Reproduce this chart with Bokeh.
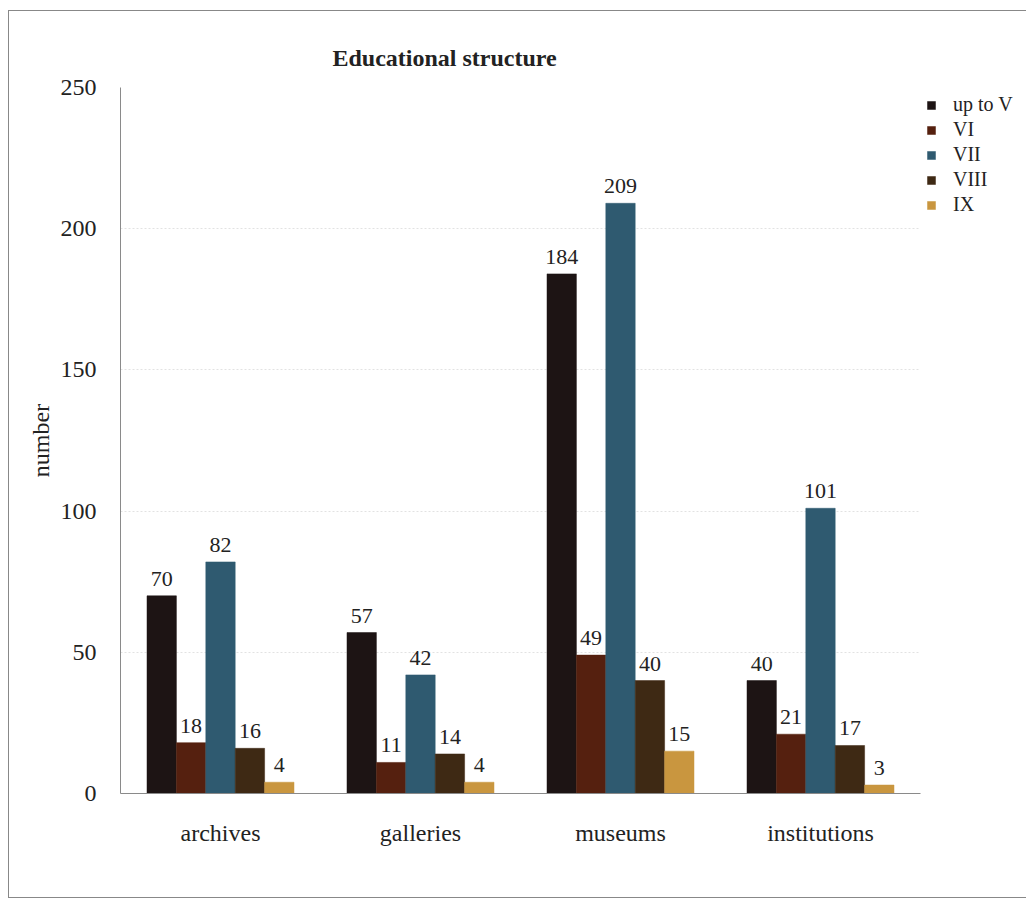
from bokeh.plotting import figure
from bokeh.models import FactorRange, Legend, LegendItem, ColumnDataSource, SingleIntervalTicker
from bokeh.transform import dodge
from bokeh.core.properties import value
from bokeh.embed import file_html
from bokeh.resources import INLINE

categories = ["archives", "galleries", "museums", "institutions"]
series = ["up to V", "VI", "VII", "VIII", "IX"]
up_to_v = [70, 57, 184, 40]
vi = [18, 11, 49, 21]
vii = [82, 42, 209, 101]
viii = [16, 14, 40, 17]
ix = [4, 4, 15, 3]
values = [up_to_v, vi, vii, viii, ix]
colors = ["#1d1414", "#55200f", "#2f5a70", "#3e2914", "#c9963f"]

FONT = "Liberation Serif"

p = figure(x_range=FactorRange(*categories, range_padding=0), y_range=(0, 250),
           frame_width=800, frame_height=706, output_backend="svg", toolbar_location=None,
           min_border_left=111, min_border_right=0, min_border_top=76, min_border_bottom=104)
p.outline_line_color = None
p.background_fill_color = "white"
p.border_fill_color = "white"
p.styles = {"border": "1px solid #888888", "margin-left": "8px", "margin-top": "10px"}

bw = 0.147
offsets = [-2 * bw, -bw, 0, bw, 2 * bw]
items = []
for name, vals, col, off in zip(series, values, colors, offsets):
    src = ColumnDataSource(dict(cat=categories, v=vals, t=[str(x) for x in vals]))
    r = p.vbar(x=dodge("cat", off, range=p.x_range), top="v", width=bw, source=src,
               fill_color=col, line_color=col, line_width=0.5)
    p.text(x=dodge("cat", off, range=p.x_range), y="v", text="t", source=src,
           text_align="center", text_baseline="bottom", y_offset=-10,
           text_font=value(FONT), text_font_size="22px", text_color="#222222")
    items.append(LegendItem(label=name, renderers=[r]))

legend = Legend(items=items, location="top_left", border_line_color=None,
                background_fill_alpha=0, label_text_font=FONT, label_text_font_size="20px",
                label_text_color="#222222", glyph_width=10, glyph_height=10,
                label_height=20, spacing=2, padding=0, margin=6, label_standoff=17)
p.add_layout(legend, "right")

p.title.text = "Educational structure"
p.title.text_font = FONT
p.title.text_font_size = "24px"
p.title.text_font_style = "bold"
p.title.align = "left"
p.title.offset = 212
p.title.standoff = 34
p.title.text_color = "#222222"

p.yaxis.ticker = SingleIntervalTicker(interval=50)
p.yaxis.axis_label = "number"
p.yaxis.axis_label_text_font = FONT
p.yaxis.axis_label_text_font_size = "24px"
p.yaxis.axis_label_text_font_style = "normal"
p.yaxis.axis_label_text_color = "#222222"
p.yaxis.axis_label_standoff = 4
for ax in (p.xaxis, p.yaxis):
    ax.major_label_text_font = FONT
    ax.major_label_text_font_size = "24px"
    ax.major_label_text_color = "#222222"
    ax.axis_line_color = "#8a8a8a"
    ax.major_tick_line_color = None
    ax.minor_tick_line_color = None
p.xaxis.major_label_standoff = 20
p.yaxis.major_label_standoff = 18

p.xgrid.grid_line_color = None
p.ygrid.grid_line_color = "#e2e2e2"
p.ygrid.grid_line_dash = "2 2"

open("out.html", "w").write(file_html(p, INLINE))
